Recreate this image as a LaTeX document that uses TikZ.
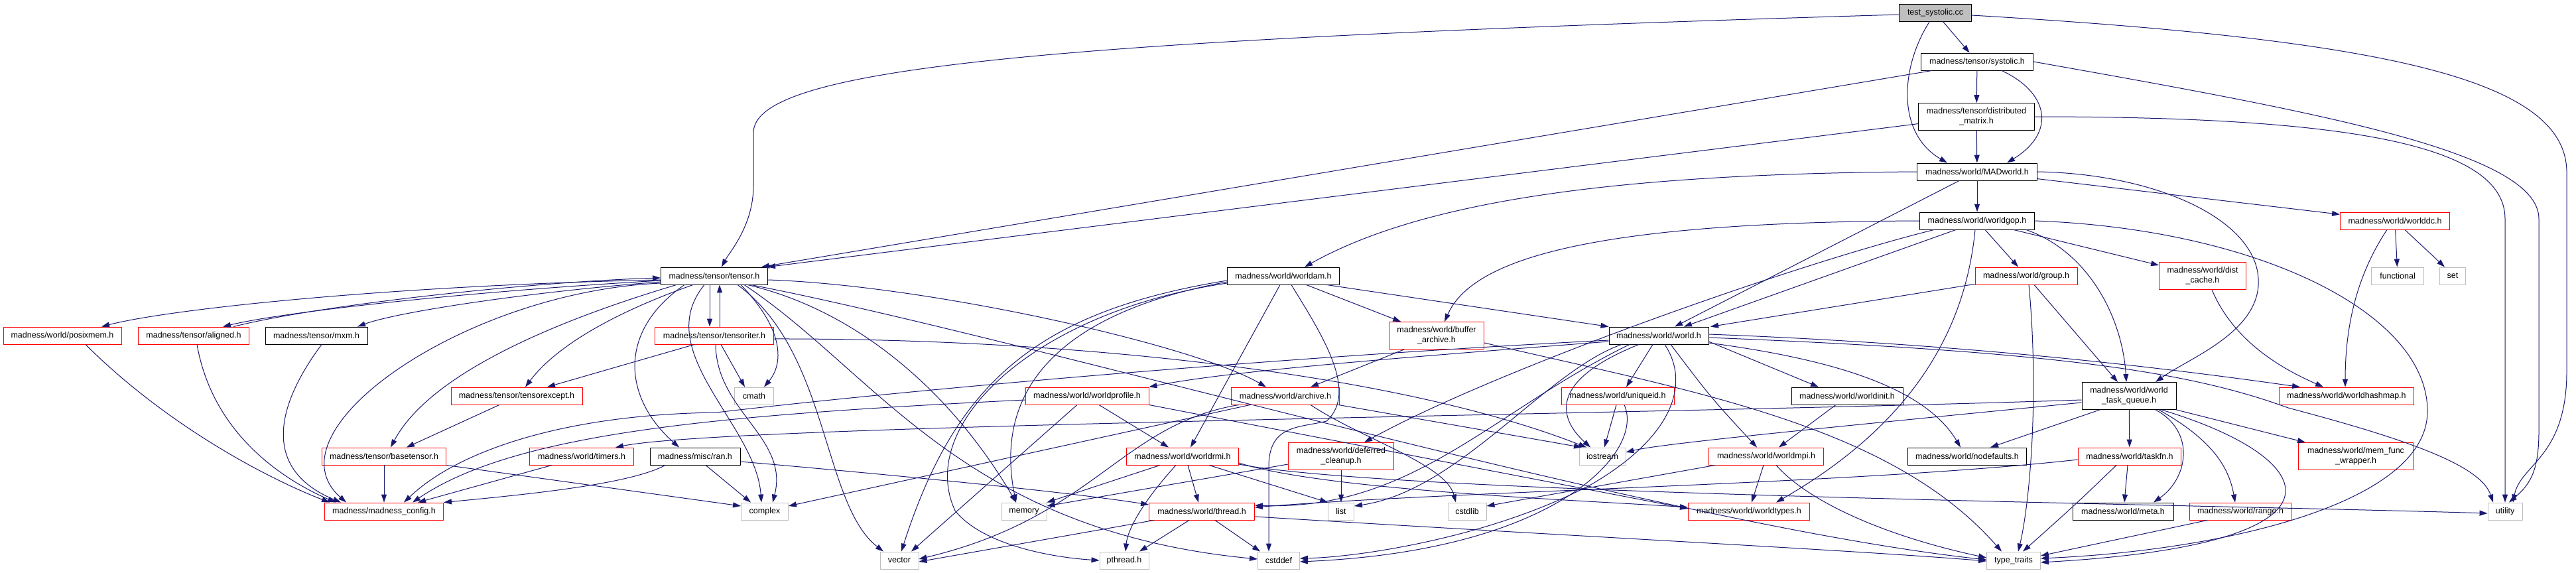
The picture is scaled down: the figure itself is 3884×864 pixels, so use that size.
\documentclass[tikz,border=0pt]{standalone}
\usepackage{fontspec}
\setmainfont{Liberation Sans}
\usetikzlibrary{arrows.meta}
\definecolor{edgec}{RGB}{25,25,112}
\definecolor{grayb}{RGB}{191,191,191}
\begin{document}
\begin{tikzpicture}[x=1pt,y=-1pt,
  box/.style={draw, line width=0.9pt, inner sep=0pt, minimum height=26pt, font=\fontsize{12.5}{15}\selectfont, align=center, fill=white},
  bk/.style={box,draw=black},
  rd/.style={box,draw=red},
  gy/.style={box,draw=grayb},
  two/.style={minimum height=41pt},
  edg/.style={draw=edgec, line width=1pt, -{Triangle[length=12pt,width=8pt]}}]
\useasboundingbox[fill=white] (0,0) rectangle (3884,864);
% ---------------- nodes ----------------
\node[bk, fill=grayb, minimum width=109pt] (test) at (2918,19) {test\_systolic.cc};
\node[bk, minimum width=169pt] (systolic) at (2981,93) {madness/tensor/systolic.h};
\node[bk, two, minimum width=175pt] (dm) at (2980,176) {madness/tensor/distributed\\\_matrix.h};
\node[bk, minimum width=181pt] (MADworld) at (2981,259) {madness/world/MADworld.h};
\node[bk, minimum width=173pt] (worldgop) at (2981,333) {madness/world/worldgop.h};
\node[rd, minimum width=165pt] (worlddc) at (3611,333) {madness/world/worlddc.h};
\node[rd, minimum width=154pt] (group) at (3055,416) {madness/world/group.h};
\node[rd, two, minimum width=131pt] (distcache) at (3321,416) {madness/world/dist\\\_cache.h};
\node[gy, minimum width=79pt] (functional) at (3615,416) {functional};
\node[gy, minimum width=39pt] (setn) at (3698,416) {set};
\node[bk, minimum width=169pt] (worldam) at (1935,416) {madness/world/worldam.h};
\node[bk, minimum width=161pt] (tensor) at (1077,416) {madness/tensor/tensor.h};
\node[rd, two, minimum width=143pt] (buffer) at (2166,506) {madness/world/buffer\\\_archive.h};
\node[bk, minimum width=150pt] (world) at (2501,506) {madness/world/world.h};
\node[rd, minimum width=178pt] (posixmem) at (94,506) {madness/world/posixmem.h};
\node[rd, minimum width=167pt] (aligned) at (292,506) {madness/tensor/aligned.h};
\node[bk, minimum width=154pt] (mxm) at (477,506) {madness/tensor/mxm.h};
\node[rd, minimum width=179pt] (tensoriter) at (1077,506) {madness/tensor/tensoriter.h};
\node[bk, two, minimum width=142pt] (wtq) at (3210,597) {madness/world/world\\\_task\_queue.h};
\node[rd, minimum width=203pt] (hashmap) at (3538,597) {madness/world/worldhashmap.h};
\node[bk, minimum width=168pt] (worldinit) at (2785,597) {madness/world/worldinit.h};
\node[rd, minimum width=186pt] (profile) at (1639,597) {madness/world/worldprofile.h};
\node[rd, minimum width=163pt] (archive) at (1938,597) {madness/world/archive.h};
\node[rd, minimum width=170pt] (uniqueid) at (2439,597) {madness/world/uniqueid.h};
\node[rd, minimum width=198pt] (texcept) at (779,597) {madness/tensor/tensorexcept.h};
\node[gy, minimum width=59pt] (cmath) at (1137,597) {cmath};
\node[rd, minimum width=187pt] (basetensor) at (579,688) {madness/tensor/basetensor.h};
\node[rd, minimum width=157pt] (timers) at (877,688) {madness/world/timers.h};
\node[bk, minimum width=136pt] (ran) at (1048,688) {madness/misc/ran.h};
\node[rd, minimum width=169pt] (rmi) at (1783,688) {madness/world/worldrmi.h};
\node[rd, two, minimum width=159pt] (deferred) at (2022,688) {madness/world/deferred\\\_cleanup.h};
\node[gy, minimum width=70pt] (iostream) at (2416,688) {iostream};
\node[rd, minimum width=173pt] (worldmpi) at (2663,688) {madness/world/worldmpi.h};
\node[bk, minimum width=179pt] (nodefaults) at (2966,688) {madness/world/nodefaults.h};
\node[rd, minimum width=155pt] (taskfn) at (3211,688) {madness/world/taskfn.h};
\node[rd, two, minimum width=173pt] (memfunc) at (3552,688) {madness/world/mem\_func\\\_wrapper.h};
\node[rd, minimum width=179pt] (config) at (579,771) {madness/madness\_config.h};
\node[gy, minimum width=71pt] (complex) at (1153,771) {complex};
\node[gy, minimum width=68pt] (memory) at (1544,771) {memory};
\node[rd, minimum width=159pt] (thread) at (1812,771) {madness/world/thread.h};
\node[gy, minimum width=39pt] (listn) at (2022,771) {list};
\node[gy, minimum width=58pt] (cstdlib) at (2212,771) {cstdlib};
\node[rd, minimum width=183pt] (worldtypes) at (2637,771) {madness/world/worldtypes.h};
\node[bk, minimum width=152pt] (meta) at (3201,771) {madness/world/meta.h};
\node[rd, minimum width=153pt] (range) at (3378,771) {madness/world/range.h};
\node[gy, minimum width=52pt] (utility) at (3777,771) {utility};
\node[gy, minimum width=58pt] (vector) at (1356,845) {vector};
\node[gy, minimum width=74pt] (pthread) at (1695,845) {pthread.h};
\node[gy, minimum width=63pt] (cstddef) at (1928,845) {cstddef};
\node[gy, minimum width=81pt] (typetraits) at (3036,845) {type\_traits};
% ---------------- edges ----------------
% test_systolic.cc
\draw[edg] (test) -- (systolic);
\draw[edg] (test) .. controls (2866,100) and (2858,200) .. ([xshift=-45pt]MADworld.north);
\draw[edg] ([yshift=-3pt]test.west) .. controls (1600,60) and (1136,100) .. (1136,200) -- (1136,280) .. controls (1136,340) and (1100,380) .. ([xshift=11pt]tensor.north);
\draw[edg] ([yshift=-4pt]test.east) .. controls (3600,60) and (3870,120) .. (3870,260) -- (3870,560) .. controls (3870,690) and (3800,700) .. ([xshift=12pt]utility.north);
% systolic.h
\draw[edg] (systolic) -- (dm);
\draw[edg] ([xshift=37pt]systolic.south) .. controls (3090,140) and (3100,200) .. ([xshift=45pt]MADworld.north);
\draw[edg] ([xshift=-68pt]systolic.south) -- ([xshift=71pt]tensor.north);
\draw[edg] (systolic.east) .. controls (3500,170) and (3828,230) .. (3828,330) -- (3828,650) .. controls (3828,710) and (3815,730) .. ([xshift=6pt]utility.north);
% distributed_matrix.h
\draw[edg] (dm) -- (MADworld);
\draw[edg] (dm) -- ([xshift=80pt]tensor.north);
\draw[edg] (dm.east) .. controls (3550,176) and (3777,220) .. (3777,330) -- (utility.north);
% MADworld.h
\draw[edg] (MADworld.west) .. controls (2450,262) and (2150,300) .. ([xshift=32pt]worldam.north);
\draw[edg] ([xshift=-27pt]MADworld.south) -- ([xshift=24pt]world.north);
\draw[edg] (MADworld) -- (worldgop);
\draw[edg] (MADworld) -- (worlddc);
\draw[edg] (MADworld.east) .. controls (3250,262) and (3400,330) .. (3405,420) .. controls (3410,500) and (3300,540) .. ([xshift=40pt]wtq.north);
% worlddc.h
\draw[edg] (worlddc) -- (functional);
\draw[edg] ([xshift=15pt]worlddc.south) -- ([xshift=-12pt]setn.north);
\draw[edg] ([xshift=-12pt]worlddc.south) .. controls (3550,420) and (3536,500) .. ([xshift=-2pt]hashmap.north);
% worldgop.h
\draw[edg] (worldgop.west) .. controls (2400,335) and (2220,390) .. ([xshift=12pt]buffer.north);
\draw[edg] ([xshift=-32pt]worldgop.south) -- ([xshift=38pt]world.north);
\draw[edg] ([xshift=-65pt]worldgop.south) .. controls (2700,400) and (2250,560) .. ([xshift=35pt]deferred.north);
\draw[edg] (worldgop) -- (group);
\draw[edg] (worldgop) -- (distcache);
\draw[edg] ([xshift=74pt]worldgop.south) .. controls (3150,380) and (3200,480) .. ([xshift=-4pt]wtq.north);
\draw[edg] ([xshift=-3pt]worldgop.south) .. controls (2965,480) and (2900,630) .. ([xshift=41pt]worldtypes.north);
\draw[edg] (worldgop.east) .. controls (3400,345) and (3660,470) .. (3660,620) .. controls (3660,760) and (3350,830) .. ([yshift=3pt]typetraits.east);
% group.h
\draw[edg] (group) -- ([xshift=78pt]world.north);
\draw[edg] ([xshift=12pt]group.south) -- ([xshift=-17pt]wtq.north);
\draw[edg] ([xshift=4pt]group.south) .. controls (3075,600) and (3060,760) .. ([xshift=7pt]typetraits.north);
% dist_cache.h
\draw[edg] ([xshift=14pt]distcache.south) .. controls (3370,520) and (3450,560) .. ([xshift=-35pt]hashmap.north);
% worldam.h
\draw[edg] (worldam) -- (buffer);
\draw[edg] ([xshift=65pt]worldam.south) -- (world.north west);
\draw[edg] ([xshift=-5pt]worldam.south) -- ([xshift=12pt]rmi.north);
\draw[edg] ([xshift=12pt]worldam.south) .. controls (1990,500) and (2050,590) .. (2000,635) .. controls (1960,645) and (1915,640) .. (1913,700) -- ([xshift=-15pt]cstddef.north);
\draw[edg] ([yshift=-7pt]worldam.west) .. controls (1560,470) and (1440,580) .. ([xshift=3pt]vector.north);
\draw[edg] ([yshift=-9pt]worldam.west) .. controls (1580,475) and (1500,600) .. ([xshift=-12pt]memory.north);
\draw[edg] ([yshift=-11pt]worldam.west) .. controls (1560,470) and (1380,640) .. (1440,770) .. controls (1480,820) and (1580,840) .. (pthread.west);
% buffer_archive.h
\draw[edg] ([xshift=-49pt]buffer.south) -- ([xshift=38pt]archive.north);
\draw[edg] ([yshift=-11pt]buffer.east) .. controls (2550,590) and (2850,640) .. ([xshift=-18pt]typetraits.north);
% world.h
\draw[edg] ([yshift=-9pt]world.west) .. controls (2100,540) and (1850,560) .. (profile.north east);
\draw[edg] ([yshift=-7pt]world.west) .. controls (1900,540) and (1350,590) .. (1080,622) .. controls (850,625) and (690,680) .. ([xshift=30pt]config.north);
\draw[edg] ([xshift=-9pt]world.south) -- ([xshift=13pt]uniqueid.north);
\draw[edg] ([xshift=-30pt]world.south) .. controls (2320,580) and (2360,640) .. ([xshift=-18pt]iostream.north);
\draw[edg] ([xshift=-56pt]world.south) .. controls (2330,560) and (2200,740) .. ([yshift=8pt]listn.east);
\draw[edg] ([xshift=-44pt]world.south) .. controls (2250,620) and (2130,770) .. ([yshift=9pt]thread.east);
\draw[edg] ([xshift=9pt]world.south) .. controls (2550,580) and (2520,660) .. (2400,730) .. controls (2250,810) and (2050,840) .. ([yshift=3pt]cstddef.east);
\draw[edg] ([xshift=18pt]world.south) .. controls (2580,600) .. ([xshift=-14pt]worldmpi.north);
\draw[edg] ([yshift=-9pt]world.east) -- ([xshift=-43pt]worldinit.north);
\draw[edg] ([yshift=-11pt]world.east) .. controls (2750,540) and (2900,580) .. ([xshift=-10pt]nodefaults.north);
\draw[edg] ([yshift=2pt]world.east) .. controls (3000,520) and (3300,560) .. ([xshift=-70pt]hashmap.north);
\draw[edg] ([yshift=-3pt]world.east) .. controls (3100,530) and (3300,560) .. (3450,615) .. controls (3620,660) and (3740,700) .. ([xshift=-18pt]utility.north);
% world_task_queue.h
\draw[edg] ([yshift=-6pt]wtq.west) .. controls (2500,625) and (1100,640) .. ([xshift=51pt]timers.north);
\draw[edg] ([yshift=-10pt]wtq.west) .. controls (2700,650) and (2500,670) .. ([yshift=6pt]iostream.east);
\draw[edg] ([xshift=-44pt]wtq.south) -- ([xshift=35pt]nodefaults.north);
\draw[edg] (wtq) -- (taskfn);
\draw[edg] ([xshift=40pt]wtq.south) .. controls (3310,650) and (3300,720) .. ([xshift=46pt]meta.north);
\draw[edg] ([xshift=45pt]wtq.south) .. controls (3330,660) and (3360,700) .. ([xshift=-8pt]range.north);
\draw[edg] ([xshift=49pt]wtq.south) .. controls (3500,690) and (3570,820) .. ([yshift=-3pt]typetraits.east);
\draw[edg] (wtq.south east) -- ([xshift=-76pt]memfunc.north);
% taskfn.h
\draw[edg] ([xshift=-3pt]taskfn.south) -- ([xshift=2pt]meta.north);
\draw[edg] ([xshift=-20pt]taskfn.south) .. controls (3130,760) .. ([xshift=14pt]typetraits.north);
\draw[edg] ([yshift=-5pt]taskfn.west) .. controls (2800,730) and (2200,740) .. ([yshift=6pt]thread.east);
% range.h
\draw[edg] ([xshift=-50pt]range.south) -- ([yshift=7pt]typetraits.east);
% worldinit.h
\draw[edg] ([xshift=-17pt]worldinit.south) -- ([xshift=19pt]worldmpi.north);
% worldmpi.h
\draw[edg] ([xshift=-4pt]worldmpi.south) -- ([xshift=4pt]worldtypes.north);
\draw[edg] ([xshift=15pt]worldmpi.south) .. controls (2730,760) and (2850,810) .. ([yshift=4pt]typetraits.west);
\draw[edg] ([xshift=10pt]worldmpi.south west) -- ([yshift=8pt]cstdlib.east);
% uniqueid.h
\draw[edg] ([xshift=-2pt]uniqueid.south) -- ([xshift=3pt]iostream.north);
\draw[edg] ([xshift=10pt]uniqueid.south) .. controls (2480,680) and (2350,830) .. ([yshift=-2pt]cstddef.east);
% worldprofile.h
\draw[edg] ([xshift=18pt]profile.south) -- ([xshift=-21pt]rmi.north);
\draw[edg] ([xshift=-15pt]profile.south) -- ([xshift=18pt]vector.north);
\draw[edg] ([yshift=-6pt]profile.west) .. controls (1100,625) and (780,650) .. ([xshift=43pt]config.north);
\draw[edg] (profile.south east) -- ([yshift=4pt]worldtypes.west);
% archive.h
\draw[edg] ([xshift=-53pt]archive.south) -- ([yshift=8pt]complex.east);
\draw[edg] ([xshift=-70pt]archive.south) .. controls (1690,640) and (1650,780) .. ([yshift=2pt]vector.east);
\draw[edg] ([xshift=80pt]archive.south) -- ([xshift=-31pt]iostream.north);
\draw[edg] ([xshift=38pt]archive.south) .. controls (2050,660) and (2180,700) .. ([xshift=-17pt]cstdlib.north);
% deferred_cleanup.h
\draw[edg] ([yshift=-12pt]deferred.west) -- ([yshift=8pt]memory.east);
\draw[edg] (deferred) -- (listn);
% worldrmi.h
\draw[edg] ([xshift=-34pt]rmi.south) -- (memory.north east);
\draw[edg] ([xshift=-10pt]rmi.south) .. controls (1720,760) and (1700,800) .. ([xshift=2pt]pthread.north);
\draw[edg] ([xshift=8pt]rmi.south) -- ([xshift=-5pt]thread.north);
\draw[edg] ([xshift=40pt]rmi.south) -- (listn.north west);
\draw[edg] ([yshift=-10pt]rmi.east) .. controls (2000,740) and (2400,755) .. ([yshift=6pt]worldtypes.west);
\draw[edg] ([yshift=-12pt]rmi.east) .. controls (2100,745) and (3300,760) .. ([yshift=-3pt]utility.west);
% thread.h
\draw[edg] ([xshift=-72pt]thread.south) -- ([yshift=-2pt]vector.east);
\draw[edg] ([xshift=-19pt]thread.south) -- ([xshift=23pt]pthread.north);
\draw[edg] ([xshift=20pt]thread.south) -- ([xshift=-28pt]cstddef.north);
\draw[edg] ([yshift=-8pt]thread.east) .. controls (2400,810) and (2800,830) .. ([yshift=-1pt]typetraits.west);
% tensor.h
\draw[edg] ([yshift=-6pt]tensor.west) .. controls (600,430) and (260,465) .. ([xshift=59pt]posixmem.north);
\draw[edg] ([yshift=-7pt]tensor.west) .. controls (700,440) and (430,470) .. ([xshift=44pt]aligned.north);
\draw[edg] ([xshift=60pt]aligned.north) .. controls (480,460) and (800,425) .. ([yshift=-3pt]tensor.west);
\draw[edg] ([yshift=-9pt]tensor.west) .. controls (800,440) and (600,470) .. ([xshift=62pt]mxm.north);
\draw[edg] ([xshift=-7pt]tensor.south) -- ([xshift=-7pt]tensoriter.north);
\draw[edg] ([xshift=8pt]tensoriter.north) -- ([xshift=8pt]tensor.south);
\draw[edg] ([yshift=-11pt]tensor.west) .. controls (700,440) and (400,650) .. ([xshift=-57pt]config.north);
\draw[edg] ([xshift=-32pt]tensor.south) .. controls (930,470) and (840,520) .. ([xshift=13pt]texcept.north);
\draw[edg] ([xshift=-57pt]tensor.south) .. controls (850,480) and (650,560) .. ([xshift=10pt]basetensor.north);
\draw[edg] ([xshift=-45pt]tensor.south) .. controls (930,500) and (940,600) .. ([xshift=-24pt]ran.north);
\draw[edg] ([xshift=-15pt]tensor.south) .. controls (980,530) and (1140,640) .. ([xshift=-5pt]complex.north);
\draw[edg] ([xshift=40pt]tensor.south) .. controls (1185,500) and (1180,550) .. ([xshift=15pt]cmath.north);
\draw[edg] ([yshift=-6pt]tensor.east) .. controls (1400,430) and (1800,520) .. ([xshift=-29pt]archive.north);
\draw[edg] ([xshift=55pt]tensor.south) .. controls (1550,510) and (2500,790) .. ([yshift=1pt]typetraits.west);
\draw[edg] ([xshift=35pt]tensor.south) .. controls (1250,530) and (1240,760) .. ([xshift=-24pt]vector.north);
\draw[edg] ([xshift=50pt]tensor.south) .. controls (1300,470) and (1440,600) .. ([xshift=-12pt]memory.north);
\draw[edg] ([xshift=45pt]tensor.south) .. controls (1320,560) and (1450,800) .. ([yshift=2pt]cstddef.west);
% tensoriter.h
\draw[edg] ([xshift=-30pt]tensoriter.south) -- ([xshift=46pt]texcept.north);
\draw[edg] ([xshift=10pt]tensoriter.south) -- ([xshift=-14pt]cmath.north);
\draw[edg] ([xshift=2pt]tensoriter.south) .. controls (1080,620) and (1190,660) .. ([xshift=12pt]complex.north);
\draw[edg] ([yshift=-5pt]tensoriter.east) .. controls (1600,510) and (2100,560) .. ([xshift=-24pt]iostream.north);
% tensorexcept.h, basetensor.h, timers.h, ran.h
\draw[edg] ([xshift=-26pt]texcept.south) -- ([xshift=34pt]basetensor.north);
\draw[edg] (basetensor) -- (config);
\draw[edg] (basetensor.south east) -- ([yshift=8pt]complex.west);
\draw[edg] ([xshift=-45pt]timers.south) -- ([xshift=51pt]config.north);
\draw[edg] ([xshift=-45pt]ran.south) .. controls (950,730) and (800,745) .. (config.north east);
\draw[edg] ([xshift=16pt]ran.south) -- ([xshift=-21pt]complex.north);
\draw[edg] ([yshift=-8pt]ran.east) .. controls (1300,712) and (1600,740) .. ([yshift=10pt]thread.west);
% posixmem.h, aligned.h, mxm.h
\draw[edg] ([xshift=35pt]posixmem.south) .. controls (250,640) and (400,720) .. ([xshift=-82pt]config.north);
\draw[edg] ([xshift=5pt]aligned.south) .. controls (320,650) and (420,720) .. ([xshift=-73pt]config.north);
\draw[edg] ([xshift=8pt]mxm.south) .. controls (410,620) and (400,710) .. ([xshift=-65pt]config.north);
\end{tikzpicture}
\end{document}
